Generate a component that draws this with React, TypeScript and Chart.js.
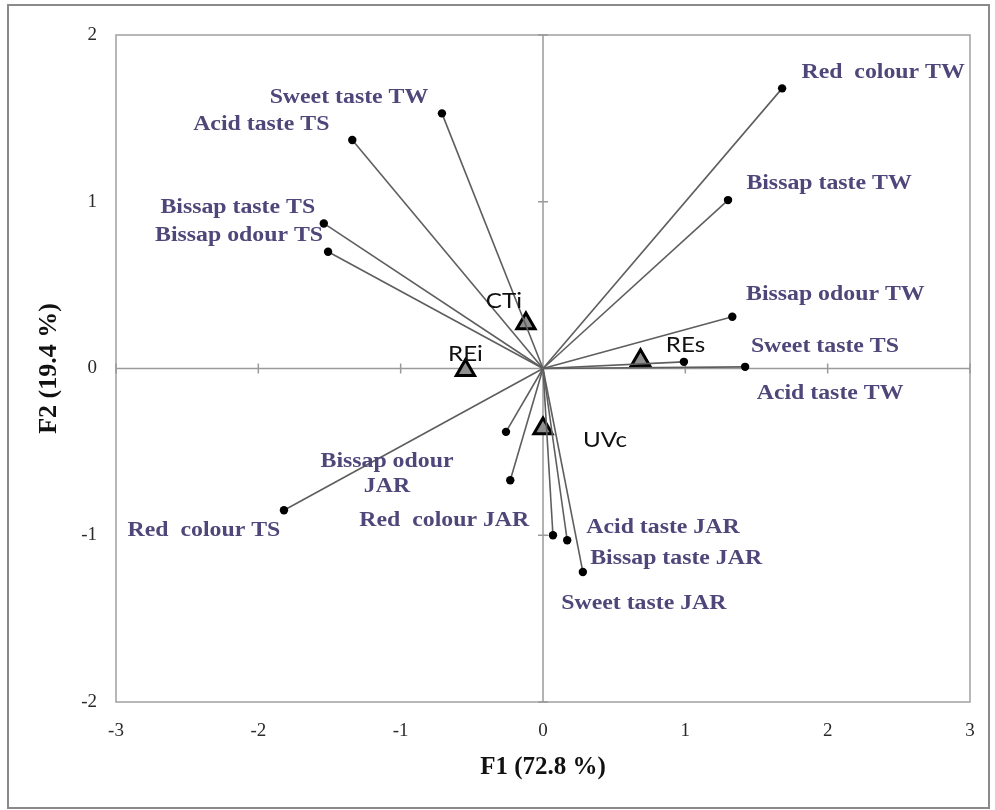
import { useEffect, useRef } from "react";
import { Chart, registerables } from "chart.js";

Chart.register(...registerables);

// ---- Data ----
const variableNames = [
  "Red  colour TW",
  "Bissap taste TW",
  "Bissap odour TW",
  "Sweet taste TS",
  "Acid taste TW",
  "Sweet taste TW",
  "Acid taste TS",
  "Bissap taste TS",
  "Bissap odour TS",
  "Red  colour TS",
  "Bissap odour\nJAR",
  "Red  colour JAR",
  "Acid taste JAR",
  "Bissap taste JAR",
  "Sweet taste JAR",
];
const variableF1 = [1.68, 1.3, 1.33, 0.99, 1.42, -0.71, -1.34, -1.54, -1.51, -1.82, -0.26, -0.23, 0.07, 0.17, 0.28];
const variableF2 = [1.68, 1.01, 0.31, 0.04, 0.01, 1.53, 1.37, 0.87, 0.7, -0.85, -0.38, -0.67, -1.0, -1.03, -1.22];

const sampleNames = ["CTi", "REi", "REs", "UVc"];
const sampleF1 = [-0.12, -0.545, 0.685, 0.0];
const sampleF2 = [0.27, -0.01, 0.05, -0.36];

const xTicks = [-3, -2, -1, 0, 1, 2, 3];
const yTicks = [-2, -1, 0, 1, 2];

const xTitle = "F1 (72.8 %)";
const yTitle = "F2 (19.4 %)";

// ---- Label layout (pixel offsets from each marker) ----
const variableLabelOffsets: [number, number][] = [
  [101, -16],
  [101, -16],
  [103, -22],
  [141, -15],
  [85, 27],
  [-93, -16],
  [-91, -15],
  [-86, -16],
  [-89, -16],
  [-80, 21],
  [-119, 30],
  [-66, 41],
  [110, -7],
  [109, 19],
  [61, 32],
];
const sampleLabelOffsets: [number, number][] = [
  [-22, -22],
  [0, -16],
  [45, -15],
  [62, 12],
];

const framePlugin = {
  id: "frameAndLabels",
  beforeDatasetsDraw(chart: any) {
    const { ctx, chartArea: a, scales } = chart;
    const xs = scales.x;
    const ys = scales.y;
    ctx.save();
    // outer frame
    ctx.strokeStyle = "#8a8a8a";
    ctx.lineWidth = 2;
    ctx.strokeRect(8, 5, 981, 803);
    // plot area frame
    ctx.strokeStyle = "#a0a0a0";
    ctx.lineWidth = 1.5;
    ctx.strokeRect(a.left, a.top, a.right - a.left, a.bottom - a.top);
    // zero axes
    const x0 = xs.getPixelForValue(0);
    const y0 = ys.getPixelForValue(0);
    ctx.strokeStyle = "#9a9a9a";
    ctx.lineWidth = 1.5;
    ctx.beginPath();
    ctx.moveTo(a.left, y0);
    ctx.lineTo(a.right, y0);
    ctx.moveTo(x0, a.top);
    ctx.lineTo(x0, a.bottom);
    // cross tick marks on zero axes
    xTicks.forEach((v) => {
      const px = xs.getPixelForValue(v);
      ctx.moveTo(px, y0 - 5);
      ctx.lineTo(px, y0 + 5);
    });
    yTicks.forEach((v) => {
      const py = ys.getPixelForValue(v);
      ctx.moveTo(x0 - 5, py);
      ctx.lineTo(x0 + 5, py);
    });
    ctx.stroke();
    ctx.restore();
  },
  afterDatasetsDraw(chart: any) {
    const { ctx, scales } = chart;
    const xs = scales.x;
    const ys = scales.y;
    ctx.save();
    ctx.textAlign = "center";
    ctx.textBaseline = "middle";
    // variable labels (serif bold, purple-grey, horizontally stretched)
    ctx.fillStyle = "#4f4679";
    ctx.font = "bold 20px 'Liberation Serif', 'Times New Roman', serif";
    variableNames.forEach((name, i) => {
      const px = xs.getPixelForValue(variableF1[i]) + variableLabelOffsets[i][0];
      const py = ys.getPixelForValue(variableF2[i]) + variableLabelOffsets[i][1];
      name.split("\n").forEach((line, j) => {
        ctx.save();
        ctx.translate(px, py + j * 25);
        ctx.scale(1.19, 1);
        ctx.fillText(line, 0, 0);
        ctx.restore();
      });
    });
    // sample labels (sans)
    ctx.fillStyle = "#111";
    ctx.font = "21px Lato, 'Open Sans', sans-serif";
    sampleNames.forEach((name, i) => {
      const px = xs.getPixelForValue(sampleF1[i]) + sampleLabelOffsets[i][0];
      const py = ys.getPixelForValue(sampleF2[i]) + sampleLabelOffsets[i][1];
      ctx.save();
      ctx.translate(px, py);
      ctx.scale(1.15, 1);
      ctx.fillText(name, 0, 0);
      ctx.restore();
    });
    ctx.restore();
  },
};

export default function App() {
  const canvasRef = useRef<HTMLCanvasElement | null>(null);

  useEffect(() => {
    if (!canvasRef.current) return;
    const vectorDatasets = variableNames.map((name, i) => ({
      type: "scatter" as const,
      label: name,
      data: [
        { x: 0, y: 0 },
        { x: variableF1[i], y: variableF2[i] },
      ],
      showLine: true,
      borderColor: "#5e5e5e",
      borderWidth: 1.6,
      pointRadius: [0, 4.2],
      pointBackgroundColor: "#000",
      pointBorderColor: "#000",
      pointBorderWidth: 0,
    }));
    const sampleDataset = {
      type: "scatter" as const,
      label: "Samples",
      data: sampleF1.map((x, i) => ({ x, y: sampleF2[i] })),
      showLine: false,
      pointStyle: "triangle",
      pointRadius: 10.5,
      pointBackgroundColor: "#8f8f8f",
      pointBorderColor: "#000",
      pointBorderWidth: 3,
    };

    const chart = new Chart(canvasRef.current, {
      type: "scatter",
      data: { datasets: [...vectorDatasets, sampleDataset] as any },
      options: {
        responsive: false,
        animation: false,
        events: [],
        layout: { padding: { top: 35, right: 25, left: 0, bottom: 0 } },
        plugins: {
          legend: { display: false },
          tooltip: { enabled: false },
        },
        scales: {
          x: {
            type: "linear",
            min: -3,
            max: 3,
            afterFit: (s: any) => {
              s.height = 108;
            },
            afterBuildTicks: (s: any) => {
              s.ticks = xTicks.map((v) => ({ value: v }));
            },
            grid: { display: false, drawTicks: false },
            border: { display: false },
            ticks: {
              padding: 18,
              color: "#2a2a2a",
              font: { family: "'Liberation Serif', 'Times New Roman', serif", size: 19 },
            },
            title: {
              display: true,
              text: xTitle,
              color: "#111",
              font: { family: "'Liberation Serif', 'Times New Roman', serif", size: 25, weight: "bold" },
              padding: { top: 0, bottom: 27 },
            },
          },
          y: {
            type: "linear",
            min: -2,
            max: 2,
            afterFit: (s: any) => {
              s.width = 116;
            },
            afterBuildTicks: (s: any) => {
              s.ticks = yTicks.map((v) => ({ value: v }));
            },
            grid: { display: false, drawTicks: false },
            border: { display: false },
            ticks: {
              padding: 19,
              color: "#2a2a2a",
              font: { family: "'Liberation Serif', 'Times New Roman', serif", size: 19 },
            },
            title: {
              display: true,
              text: yTitle,
              color: "#111",
              font: { family: "'Liberation Serif', 'Times New Roman', serif", size: 26, weight: "bold" },
              padding: { top: 34, bottom: 0 },
            },
          },
        },
      },
      plugins: [framePlugin],
    } as any);

    return () => chart.destroy();
  }, []);

  return (
    <div style={{ position: "fixed", left: 0, top: 0, width: 995, height: 810, background: "#fff" }}>
      <canvas ref={canvasRef} width={995} height={810} style={{ width: 995, height: 810, display: "block" }} />
    </div>
  );
}
